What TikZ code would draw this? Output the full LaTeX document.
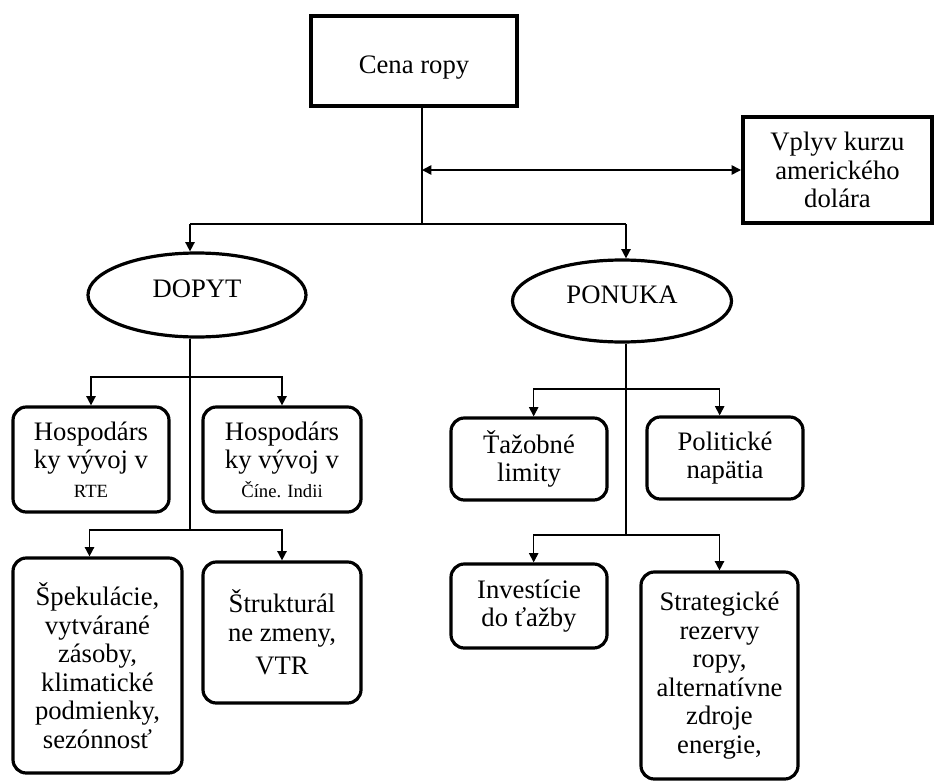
\documentclass[tikz,border=0pt]{standalone}
\usepackage{fontspec}
\setmainfont{Liberation Serif}
\usetikzlibrary{shapes.geometric,arrows.meta}
\begin{document}
\begin{tikzpicture}[x=0.75pt,y=-0.75pt,
  txt/.style={font=\fontsize{20}{21.4}\selectfont, align=center, inner sep=0pt},
  sqbox/.style={txt, draw, rectangle, line width=3pt},
  rbox/.style={txt, draw, rectangle, line width=2.4pt, rounded corners=10pt},
  oval/.style={txt, draw, ellipse, line width=2.4pt},
  conn/.style={line width=1.2pt},
  arr/.style={conn, -{Triangle[length=7pt,width=7pt]}},
  darr/.style={conn, {Triangle[length=7pt,width=7pt]}-{Triangle[length=7pt,width=7pt]}}]
\useasboundingbox (0,0) rectangle (936,782);

% nodes
\node[sqbox, minimum width=206*0.75pt, minimum height=90*0.75pt] (cena) at (414,61) {\raisebox{-9pt}[0pt][0pt]{Cena ropy}};
\node[sqbox, minimum width=189*0.75pt, minimum height=106*0.75pt] (vplyv) at (837.5,170) {Vplyv kurzu\\amerického\\dolára};
\node[oval, minimum width=218*0.75pt, minimum height=84*0.75pt] (dopyt) at (197,295) {\raisebox{-1.5pt}[0pt][0pt]{DOPYT}};
\node[oval, minimum width=219*0.75pt, minimum height=82*0.75pt] (ponuka) at (622,301) {\raisebox{-1.5pt}[0pt][0pt]{PONUKA}};

\node[rbox, minimum width=156*0.75pt, minimum height=105*0.75pt] (h1) at (91,459.5) {Hospodárs\\ky vývoj v\\{\fontsize{14}{16}\selectfont RTE}};
\node[rbox, minimum width=158*0.75pt, minimum height=105*0.75pt] (h2) at (282,459.5) {Hospodárs\\ky vývoj v\\{\fontsize{14}{16}\selectfont Číne. Indii}};
\node[rbox, minimum width=169*0.75pt, minimum height=215*0.75pt] (spek) at (97.5,665.5) {Špekulácie,\\vytvárané\\zásoby,\\klimatické\\podmienky,\\sezónnosť};
\node[rbox, minimum width=158*0.75pt, minimum height=141*0.75pt] (struk) at (282,632.5) {Štrukturál\\ne zmeny,\\[4pt]VTR};

\node[rbox, minimum width=156*0.75pt, minimum height=82*0.75pt] (tazob) at (529,459) {Ťažobné\\limity};
\node[rbox, minimum width=156*0.75pt, minimum height=82*0.75pt] (polit) at (725,458) {Politické\\napätia};
\node[rbox, minimum width=156*0.75pt, minimum height=84*0.75pt] (invest) at (529,606) {Investície\\do ťažby};
\node[rbox, minimum width=157*0.75pt, minimum height=207*0.75pt] (strat) at (719.5,675.5) {Strategické\\rezervy\\ropy,\\alternatívne\\zdroje\\energie,};

% junction coordinates
\coordinate (j1) at (422,224);
\coordinate (jL) at (190,224);
\coordinate (jR) at (626,224);
\coordinate (d1) at (190,377);
\coordinate (d2) at (190,530);
\coordinate (p1) at (626,389);
\coordinate (p2) at (626,535);

% top connectors
\draw[conn] (cena.south -| j1) -- (j1);
\draw[conn] (jL) -- (jR);
\draw[arr] (jL) -- (jL |- dopyt.north);
\draw[arr] (jR) -- (jR |- ponuka.north);
\draw[darr] (vplyv.west) -- (vplyv.west -| j1);

% DOPYT branch
\draw[conn] (dopyt.south -| d2) -- (d2);
\draw[arr] (d1) -| (h1.north);
\draw[arr] (d1) -| (h2.north);
\draw[arr] (d2) -| ([xshift=-6pt]spek.north);
\draw[arr] (d2) -| (struk.north);

% PONUKA branch
\draw[conn] (ponuka.south -| p2) -- (p2);
\draw[arr] (p1) -| ([xshift=3.5pt]tazob.north);
\draw[arr] (p1) -| ([xshift=-4pt]polit.north);
\draw[arr] (p2) -| ([xshift=3.5pt]invest.north);
\draw[arr] (p2) -| (strat.north);
\end{tikzpicture}
\end{document}
